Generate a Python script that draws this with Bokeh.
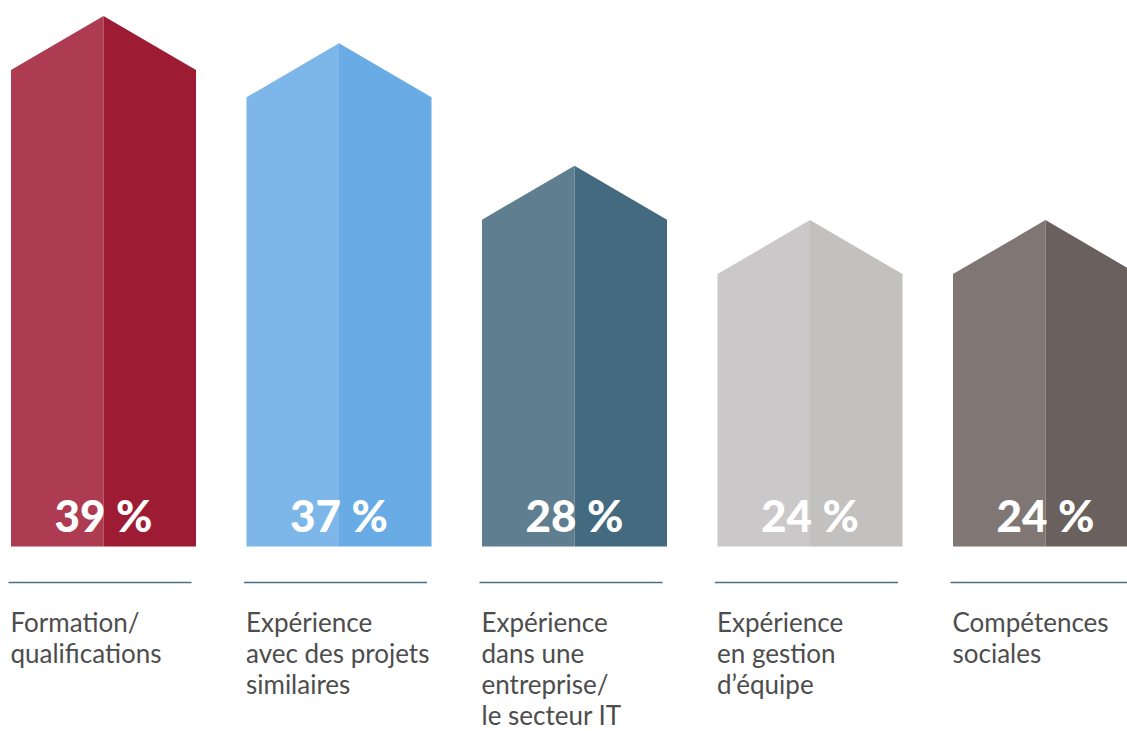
from bokeh.plotting import figure
from bokeh.models import Range1d
from bokeh.core.properties import value
from bokeh.embed import file_html
from bokeh.resources import INLINE

# ---- data ----
categories = [
    ["Formation/", "qualifications"],
    ["Expérience", "avec des projets", "similaires"],
    ["Expérience", "dans une", "entreprise/", "le secteur IT"],
    ["Expérience", "en gestion", "d\u2019équipe"],
    ["Compétences", "sociales"],
]
values = [39, 37, 28, 24, 24]
pct_labels = ["39 %", "37 %", "28 %", "24 %", "24 %"]
light_colors = ["#ad3c52", "#7db6e8", "#5f7e8f", "#cac8c9", "#807775"]
dark_colors = ["#9d1c34", "#68abe5", "#446a80", "#c2c1bf", "#6a605e"]

# ---- layout constants ----
W, H = 1127, 731
PX_PER_PCT = 13.6          # vertical pixels per percentage point
BASE_PX = 546              # baseline (0 %) from top of figure
UNIT_PX = 235.5            # horizontal px between bars
X0_PX = 103                # centre of first bar from figure left
half_w = 92.5 / UNIT_PX
roof = 54 / PX_PER_PCT

def py(px_below_base):
    return -px_below_base / PX_PER_PCT

p = figure(width=W, height=H, output_backend="svg", toolbar_location=None,
           x_range=Range1d(-X0_PX / UNIT_PX, (W - X0_PX) / UNIT_PX),
           y_range=Range1d(-(H - BASE_PX) / PX_PER_PCT, BASE_PX / PX_PER_PCT),
           min_border=0, outline_line_color=None)
p.axis.visible = False
p.grid.visible = False
p.background_fill_color = "white"
p.border_fill_color = "white"

lx, ly, rx, ry = [], [], [], []
for i, v in enumerate(values):
    c = i
    lx.append([c - half_w, c - half_w, c, c])
    ly.append([0, v - roof, v, 0])
    rx.append([c, c, c + half_w, c + half_w])
    ry.append([0, v, v - roof, 0])

p.patches(xs=lx, ys=ly, fill_color=light_colors, line_color=None)
p.patches(xs=rx, ys=ry, fill_color=dark_colors, line_color=None)

xs = list(range(len(values)))
p.text(x=xs, y=[py(-32)] * len(values), text=pct_labels, text_color="white",
       text_font=value("Lato Black"), text_font_style="bold", text_font_size="44px",
       text_align="center", text_baseline="middle")

# separators
p.segment(x0=[i - 95 / UNIT_PX for i in xs], x1=[i + 88 / UNIT_PX for i in xs],
          y0=[py(36)] * len(xs), y1=[py(36)] * len(xs),
          line_color="#4a6e88", line_width=1.5)

# category labels
tx, ty, tt = [], [], []
for i, lines in enumerate(categories):
    for j, line in enumerate(lines):
        tx.append(i - 93 / UNIT_PX)
        ty.append(py(75 + 31 * j))
        tt.append(line)
p.text(x=tx, y=ty, text=tt, text_color="#4d4d4d", text_font=value("Lato"),
       text_font_size="26px", text_align="left", text_baseline="middle")

open("out.html", "w").write(file_html(p, INLINE))
